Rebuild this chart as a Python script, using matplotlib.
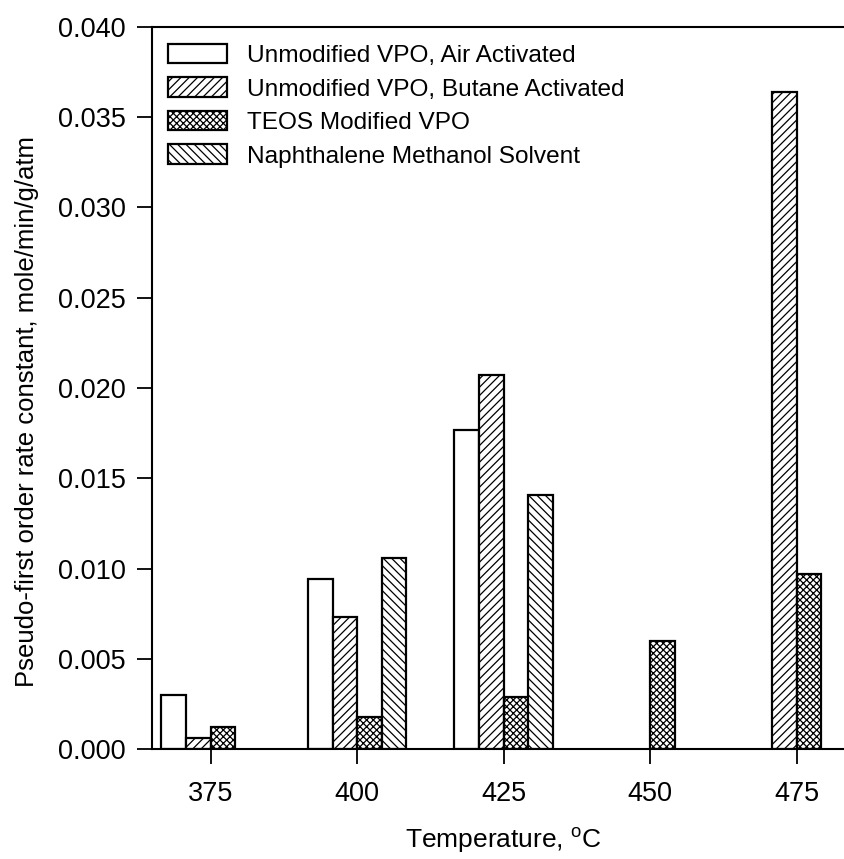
import matplotlib
matplotlib.use("Agg")
import matplotlib.pyplot as plt
import numpy as np

plt.rcParams['font.family'] = ['Liberation Sans', 'DejaVu Sans']
plt.rcParams['mathtext.fontset'] = 'custom'
plt.rcParams['mathtext.rm'] = 'Liberation Sans'
plt.rcParams['hatch.linewidth'] = 0.9

temps = [375, 400, 425, 450, 475]
series = ["Unmodified VPO, Air Activated",
          "Unmodified VPO, Butane Activated",
          "TEOS Modified VPO",
          "Naphthalene Methanol Solvent"]
air = [0.0030, 0.0094, 0.0177, np.nan, np.nan]
butane = [0.0006, 0.0073, 0.0207, np.nan, 0.0364]
teos = [0.0012, 0.0018, 0.0029, 0.0060, 0.0097]
naph = [np.nan, 0.0106, 0.0141, np.nan, np.nan]
hatches = ['', '////', 'xxxxx', '\\\\\\\\']

fig = plt.figure(figsize=(8.45, 8.59), dpi=100)
ax = fig.add_axes([0.180, 0.128, 0.832, 0.8406])

w = 4.2
x = np.array(temps, dtype=float)
for i, (vals, h, lab) in enumerate(zip([air, butane, teos, naph], hatches, series)):
    ax.bar(x + (i - 1.5) * w, vals, width=w, facecolor='white', edgecolor='black',
           hatch=h, linewidth=1.6, label=lab)

ax.set_xlim(365, 485)
ax.set_ylim(0, 0.040)
ax.set_xticks(temps)
ax.set_yticks(np.arange(0, 0.0401, 0.005))
ax.yaxis.set_major_formatter(matplotlib.ticker.FormatStrFormatter('%.3f'))
ax.tick_params(direction='out', length=11, width=1.3, labelsize=19.5)
ax.tick_params(axis='x', pad=12)
ax.tick_params(axis='y', pad=8)
for s in ['left', 'bottom', 'top', 'right']:
    ax.spines[s].set_linewidth(1.5)

ax.set_xlabel(r'Temperature, $^{\mathrm{o}}$C', fontsize=19)
ax.xaxis.set_label_coords(0.5, -0.106)
ax.set_ylabel('Pseudo-first order rate constant, mole/min/g/atm', fontsize=18.5)
ax.yaxis.set_label_coords(-0.161, 0.467)

ax.legend(loc='upper left', bbox_to_anchor=(168 / 845, 1 - 44 / 859),
          bbox_transform=fig.transFigure, frameon=False, fontsize=17.6,
          handlelength=2.4, handleheight=0.85, handletextpad=0.85,
          labelspacing=0.42, borderpad=0, borderaxespad=0)

fig.savefig('out.png', dpi=100)
